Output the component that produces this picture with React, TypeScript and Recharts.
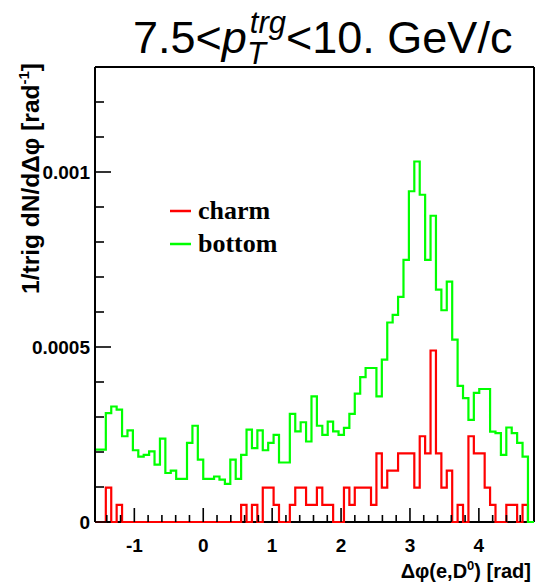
import React from 'react';
import { LineChart, Line, XAxis, YAxis, ReferenceLine } from 'recharts';

// Histogram definition: 80 bins over [-pi/2, 3pi/2]
const X_MIN = -Math.PI / 2;
const N_BINS = 80;
const BIN_WIDTH = (2 * Math.PI) / N_BINS;
const X_AXIS_MAX = 4.8;
const Y_AXIS_MAX = 0.0013;
const SCALE = 1e-4; // values below are in units of 1e-4

// 1/trig dN/dDphi for bottom (green), x 1e-4
const bottomValues = [
  2.07, 2.07, 3.11, 3.3, 3.21, 2.45, 2.62, 2.05, 1.87, 1.92,
  2.02, 1.64, 2.38, 1.4, 1.47, 1.23, 1.23, 2.26, 2.75, 1.78,
  1.23, 1.23, 1.3, 1.21, 1.09, 1.78, 1.23, 1.92, 2.64, 2.11,
  2.62, 2.05, 2.26, 2.49, 1.7, 1.7, 3.09, 2.59, 2.85, 2.3,
  3.59, 2.75, 2.49, 2.87, 2.59, 2.49, 2.69, 3.09, 3.67, 4.14,
  4.4, 4.4, 3.59, 4.64, 5.7, 5.92, 6.43, 7.49, 9.45, 10.3,
  9.35, 7.49, 8.75, 6.64, 6.05, 6.87, 5.21, 3.89, 3.54, 2.92,
  3.69, 3.8, 3.8, 2.58, 2.54, 1.92, 2.7, 2.54, 2.26, 1.87,
];

// 1/trig dN/dDphi for charm (red), x 1e-4
const charmValues = [
  0, 0, 0.98, 0, 0.49, 0, 0, 0, 0, 0,
  0, 0, 0, 0, 0, 0, 0, 0, 0, 0,
  0, 0, 0, 0, 0, 0, 0, 0.49, 0, 0.49,
  0, 0.98, 0.98, 0.49, 0, 0, 0.49, 0.98, 0.98, 0.49,
  0.49, 0.98, 0.49, 0.49, 0, 0, 0.98, 0.49, 0.98, 0.98,
  0.98, 0.49, 1.96, 0.98, 1.47, 1.47, 1.96, 1.96, 1.96, 0.98,
  2.45, 1.96, 4.9, 1.96, 0.98, 1.47, 0, 0.49, 0, 2.45,
  1.96, 1.96, 0.98, 0.49, 0, 0, 0.49, 0.49, 0, 0.49,
];

const xMajorTicks = [-1, 0, 1, 2, 3, 4];
const xAllTicks = [
  -1.4, -1.2, -1, -0.8, -0.6, -0.4, -0.2, 0, 0.2, 0.4, 0.6, 0.8, 1, 1.2, 1.4,
  1.6, 1.8, 2, 2.2, 2.4, 2.6, 2.8, 3, 3.2, 3.4, 3.6, 3.8, 4, 4.2, 4.4, 4.6,
];
const yMajorTicks = [0, 0.0005, 0.001];
const yMajorLabels = ['0', '0.0005', '0.001'];
const yAllTicks = [
  0, 0.0001, 0.0002, 0.0003, 0.0004, 0.0005, 0.0006, 0.0007, 0.0008, 0.0009,
  0.001, 0.0011, 0.0012,
];

const rows: { x: number; bottom: number; charm: number }[] = bottomValues.map((b, i) => ({
  x: X_MIN + i * BIN_WIDTH,
  bottom: b * SCALE,
  charm: charmValues[i] * SCALE,
}));
rows.push({ x: X_MIN + N_BINS * BIN_WIDTH, bottom: 0, charm: 0 });
rows.push({ x: X_AXIS_MAX, bottom: 0, charm: 0 });

const SANS = "'Liberation Sans', Arial, Helvetica, sans-serif";
const SERIF = "'Liberation Serif', 'Times New Roman', serif";

const XTick = (props: any) => {
  const { x, y, payload } = props;
  const v = payload.value as number;
  const major = xMajorTicks.some((t) => Math.abs(t - v) < 1e-6);
  return (
    <g>
      <line x1={x} x2={x} y1={y} y2={y - (major ? 14 : 7)} stroke="#000" strokeWidth={1.6} />
      {major && (
        <text x={x} y={y + 30} textAnchor="middle" fontFamily={SANS} fontWeight="bold" fontSize={19} fill="#000">
          {String(v)}
        </text>
      )}
    </g>
  );
};

const YTick = (props: any) => {
  const { x, y, payload } = props;
  const v = payload.value as number;
  const idx = yMajorTicks.findIndex((t) => Math.abs(t - v) < 1e-9);
  const major = idx >= 0;
  return (
    <g>
      <line x1={x} x2={x + (major ? 16 : 9)} y1={y} y2={y} stroke="#000" strokeWidth={1.6} />
      {major && (
        <text x={x - 5} y={y + 7} textAnchor="end" fontFamily={SANS} fontWeight="bold" fontSize={19} fill="#000">
          {yMajorLabels[idx]}
        </text>
      )}
    </g>
  );
};

export default function App() {
  return (
    <div style={{ position: 'absolute', left: 0, top: 0, width: 539, height: 585, background: '#fff' }}>
      <LineChart
        width={539}
        height={585}
        data={rows}
        margin={{ top: 67, right: 5, bottom: 0, left: 0 }}
      >
        <XAxis
          dataKey="x"
          type="number"
          domain={[X_MIN, X_AXIS_MAX]}
          ticks={xAllTicks}
          interval={0}
          height={63}
          tickSize={0}
          tickMargin={0}
          tickLine={false}
          tick={(p: any) => <XTick {...p} />}
          axisLine={false}
        />
        <YAxis
          type="number"
          domain={[0, Y_AXIS_MAX]}
          ticks={yAllTicks}
          interval={0}
          width={95}
          tickSize={0}
          tickMargin={0}
          tickLine={false}
          tick={(p: any) => <YTick {...p} />}
          axisLine={{ stroke: '#000', strokeWidth: 2 }}
        />
        <ReferenceLine y={0} stroke="#000" strokeWidth={2} />
        <ReferenceLine y={Y_AXIS_MAX} stroke="#000" strokeWidth={2} />
        <ReferenceLine x={X_AXIS_MAX} stroke="#000" strokeWidth={2} />
        <Line
          type="stepAfter"
          dataKey="charm"
          stroke="#ff0000"
          strokeWidth={2.2}
          dot={false}
          activeDot={false}
          isAnimationActive={false}
        />
        <Line
          type="stepAfter"
          dataKey="bottom"
          stroke="#00ff00"
          strokeWidth={2.2}
          dot={false}
          activeDot={false}
          isAnimationActive={false}
        />
      </LineChart>
      <svg
        width={539}
        height={585}
        style={{ position: 'absolute', left: 0, top: 0, pointerEvents: 'none' }}
      >
        <text x={133} y={53} fontFamily={SANS} fontSize={45} fill="#000">
          7.5&lt;
          <tspan fontStyle="italic">p</tspan>
          <tspan fontStyle="italic" fontSize={31} dy={11}>T</tspan>
          <tspan fontStyle="italic" fontSize={31} dx={-16} dy={-31}>trg</tspan>
          <tspan fontSize={45} dy={20}>&lt;10. GeV/c</tspan>
        </text>
        <text
          transform="translate(39,63) rotate(-90)"
          textAnchor="end"
          fontFamily={SANS}
          fontWeight="bold"
          fontSize={24.5}
          fill="#000"
        >
          1/trig dN/dΔφ [rad
          <tspan fontSize={15} dy={-10}>-1</tspan>
          <tspan dy={10}>]</tspan>
        </text>
        <text x={531} y={578} textAnchor="end" fontFamily={SANS} fontWeight="bold" fontSize={20} fill="#000">
          Δφ(e,D
          <tspan fontSize={13} dy={-8}>0</tspan>
          <tspan dy={8}>) [rad]</tspan>
        </text>
        <line x1={170} x2={191} y1={211} y2={211} stroke="#ff0000" strokeWidth={2.5} />
        <text x={198} y={219} fontFamily={SERIF} fontWeight="bold" fontSize={26} fill="#000">charm</text>
        <line x1={170} x2={191} y1={244} y2={244} stroke="#00ff00" strokeWidth={2.5} />
        <text x={198} y={252} fontFamily={SERIF} fontWeight="bold" fontSize={26} fill="#000">bottom</text>
      </svg>
    </div>
  );
}
